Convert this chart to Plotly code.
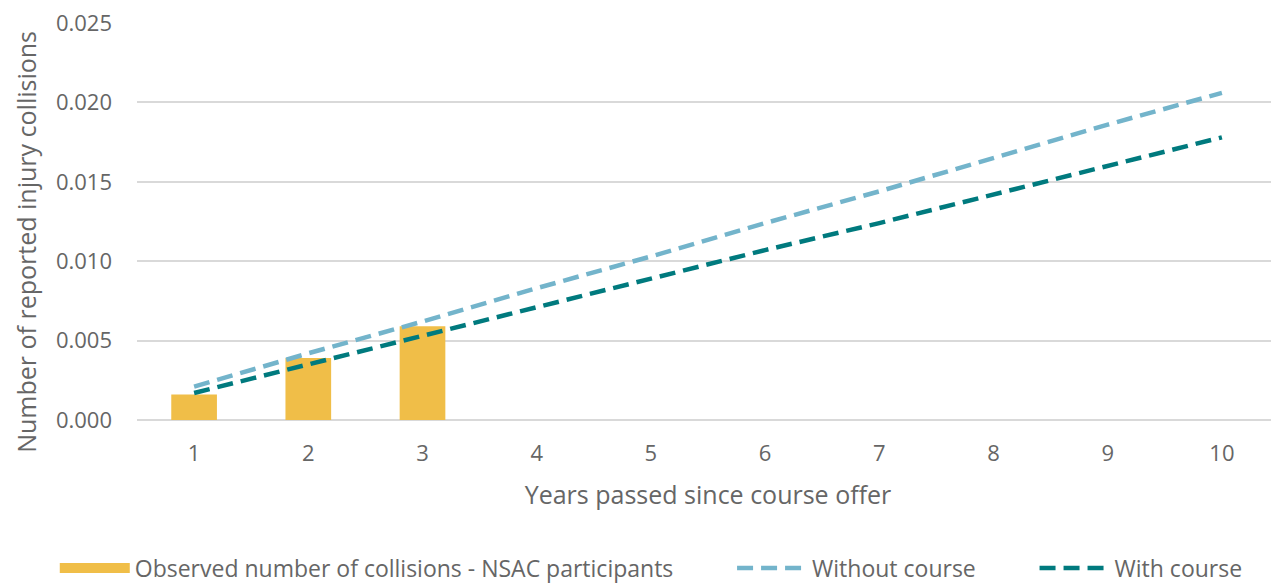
import plotly.graph_objects as go

years = [1, 2, 3, 4, 5, 6, 7, 8, 9, 10]
observed = [0.0016, 0.0039, 0.0059]
without_course = [0.0021, 0.0042, 0.0062, 0.0083, 0.0103, 0.0124, 0.0144, 0.0165, 0.0186, 0.0206]
with_course = [0.0017, 0.0035, 0.0053, 0.0071, 0.0089, 0.0107, 0.0124, 0.0142, 0.0160, 0.0178]

grey = "#666666"
bar_colour = "#F0BE48"
font = "Open Sans, Noto Sans, sans-serif"
cats = [str(y) for y in years]
pad = "\u00a0" * 9  # wider gap between legend entries

fig = go.Figure()
fig.add_trace(go.Bar(x=cats[:3], y=observed, showlegend=False,
                     marker=dict(color=bar_colour, line=dict(width=0)), width=0.4))
# empty trace only used to get a wide rectangle as the bar's legend key
fig.add_trace(go.Scatter(x=[None], y=[None], mode="lines",
                         name="Observed number of collisions - NSAC participants" + pad,
                         line=dict(color=bar_colour, width=15)))
fig.add_trace(go.Scatter(x=cats, y=without_course, mode="lines",
                         name="Without course" + pad,
                         line=dict(color="#73B4CB", width=4.5, dash="16px,8px")))
fig.add_trace(go.Scatter(x=cats, y=with_course, mode="lines",
                         name="With course",
                         line=dict(color="#007A7E", width=4.5, dash="16px,8px")))

# page body has an 8px margin, so the figure is a bit smaller than the window
fig.update_layout(
    width=1271, height=575,
    margin=dict(l=129, r=0, t=15, b=163, autoexpand=False),
    plot_bgcolor="white", paper_bgcolor="white",
    font=dict(family=font, color=grey, size=22),
    showlegend=True,
    legend=dict(orientation="h", x=-0.072, xanchor="left", y=-0.373, yanchor="middle",
                font=dict(size=23, color=grey), itemwidth=70, traceorder="normal"),
    xaxis=dict(type="category", categoryorder="array", categoryarray=cats,
               range=[-0.5, 9.5], showgrid=False, showline=False, ticks="",
               title=dict(text="Years passed since course offer", font=dict(size=25), standoff=20),
               tickfont=dict(size=22), ticklabelstandoff=18),
    yaxis=dict(range=[0, 0.0250001], dtick=0.005, tickformat=".3f", showgrid=True,
               gridcolor="#D9D9D9", gridwidth=1.5, zeroline=True, zerolinecolor="#D9D9D9",
               zerolinewidth=1.5, showline=False, ticks="", ticklabeloverflow="allow",
               tickfont=dict(size=22), ticklabelstandoff=24),
)

# y title as an annotation so it can sit a little lower, like the original
fig.add_annotation(text="Number of reported injury collisions", textangle=-90,
                   xref="paper", yref="paper", x=-0.0975, y=0.448,
                   xanchor="center", yanchor="middle", showarrow=False,
                   font=dict(size=25, color=grey))

fig.write_html("out.html")
